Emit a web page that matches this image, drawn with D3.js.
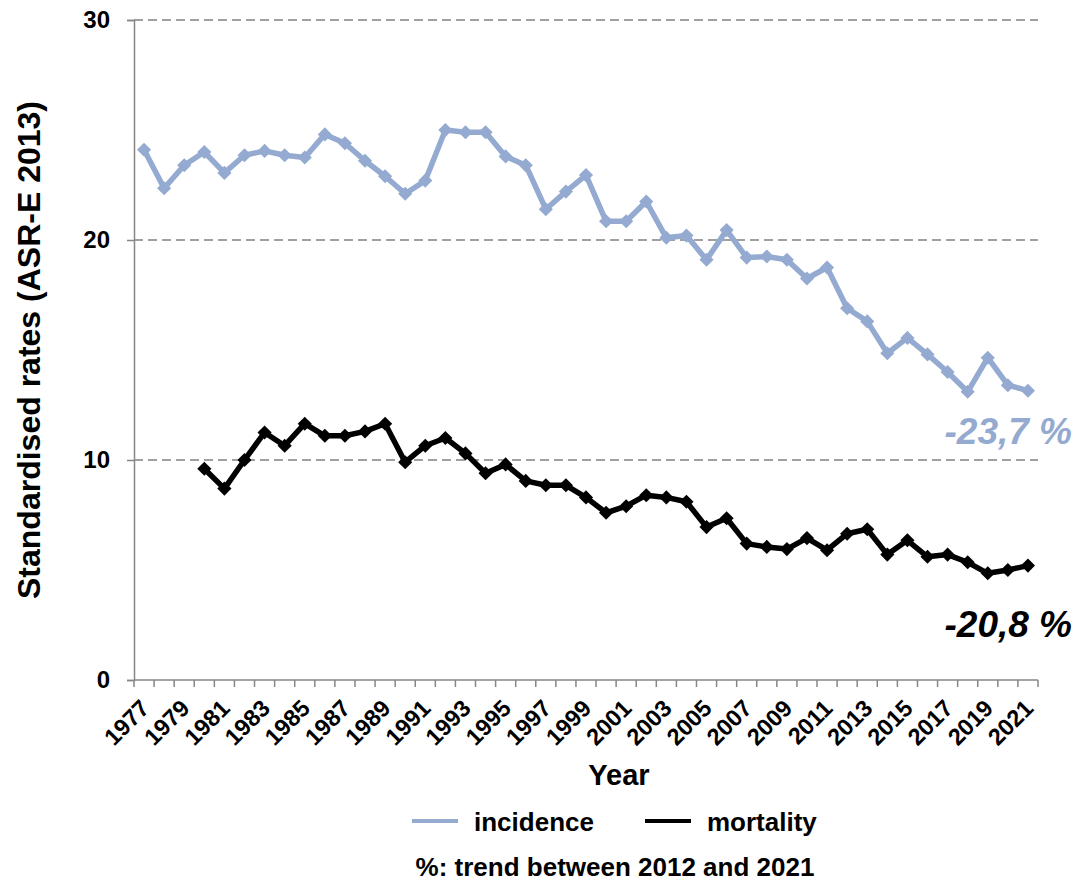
<!DOCTYPE html>
<html>
<head>
<meta charset="utf-8">
<script src="https://cdn.jsdelivr.net/npm/d3@7"></script>
<style>
  body { margin: 0; background: #fff; }
  text { font-family: "Liberation Sans", Arial, sans-serif; font-weight: bold; }
</style>
</head>
<body>
<div id="chart"></div>
<script>
var years = d3.range(1977, 2022);

var incidence = [24.1, 22.35, 23.4, 24.0, 23.05, 23.85, 24.05, 23.85, 23.75, 24.8,
                 24.4, 23.6, 22.9, 22.1, 22.7, 25.0, 24.9, 24.9, 23.8, 23.4,
                 21.4, 22.2, 22.95, 20.85, 20.85, 21.75, 20.1, 20.2, 19.1, 20.45,
                 19.2, 19.25, 19.1, 18.25, 18.75, 16.9, 16.3, 14.85, 15.55, 14.8,
                 14.0, 13.1, 14.65, 13.4, 13.15];

// mortality starts in 1980
var mortality = [null, null, null, 9.6, 8.7, 10.0, 11.25, 10.65, 11.65, 11.1,
                 11.1, 11.3, 11.65, 9.9, 10.65, 11.0, 10.3, 9.4, 9.8, 9.05,
                 8.85, 8.85, 8.3, 7.6, 7.9, 8.4, 8.3, 8.1, 6.95, 7.35,
                 6.2, 6.05, 5.95, 6.45, 5.9, 6.65, 6.85, 5.7, 6.35, 5.6,
                 5.7, 5.35, 4.85, 5.0, 5.2];

var yTicks = [0, 10, 20, 30];
var trendLabels = ["-23,7 %", "-20,8 %"];

var incColor = "#94aad0";
var morColor = "#000000";

var width = 1081, height = 882;
var m = {left: 134, right: 1038, top: 20, bottom: 680};

var svg = d3.select("#chart").append("svg")
    .attr("width", width)
    .attr("height", height);

var x = d3.scaleBand()
    .domain(years)
    .range([m.left, m.right]);

var y = d3.scaleLinear()
    .domain([0, 30])
    .range([m.bottom, m.top]);

// gridlines
svg.append("g")
    .selectAll("line")
    .data(yTicks.filter(function (d) { return d > 0; }))
    .enter()
    .append("line")
    .attr("x1", m.left)
    .attr("x2", m.right)
    .attr("y1", function (d) { return y(d); })
    .attr("y2", function (d) { return y(d); })
    .attr("stroke", "#a0a0a0")
    .attr("stroke-width", 2)
    .attr("stroke-dasharray", "9,5");

// y axis
var yAxis = svg.append("g")
    .attr("transform", "translate(" + m.left + ",0)")
    .call(d3.axisLeft(y).tickValues(yTicks).tickSize(7).tickPadding(17));
yAxis.select(".domain").attr("stroke", "#868686").attr("stroke-width", 1.5);
yAxis.selectAll(".tick line").attr("stroke", "#868686").attr("stroke-width", 1.5);
yAxis.selectAll(".tick text")
    .style("font-size", "24px")
    .style("font-weight", "bold")
    .style("font-family", "'Liberation Sans', Arial, sans-serif")
    .attr("fill", "#000");

// x axis
var xg = svg.append("g");
xg.append("line")
    .attr("x1", m.left).attr("x2", m.right)
    .attr("y1", m.bottom).attr("y2", m.bottom)
    .attr("stroke", "#868686").attr("stroke-width", 1.5);
xg.selectAll("line.tick")
    .data(years.concat([null]))
    .enter()
    .append("line")
    .attr("class", "tick")
    .attr("x1", function (d, i) { return m.left + i * x.step(); })
    .attr("x2", function (d, i) { return m.left + i * x.step(); })
    .attr("y1", m.bottom)
    .attr("y2", m.bottom + 7)
    .attr("stroke", "#868686").attr("stroke-width", 1.5);
xg.selectAll("text")
    .data(years.filter(function (d) { return (d - 1977) % 2 === 0; }))
    .enter()
    .append("text")
    .attr("transform", function (d) {
        return "translate(" + (x(d) + x.bandwidth() / 2 + 1) + "," + (m.bottom + 24) + ") rotate(-45)";
    })
    .attr("text-anchor", "end")
    .attr("dy", "0.35em")
    .style("font-size", "23.5px")
    .text(function (d) { return d; });

// axis titles
svg.append("text")
    .attr("x", 619)
    .attr("y", 785)
    .attr("text-anchor", "middle")
    .style("font-size", "29px")
    .text("Year");

svg.append("text")
    .attr("transform", "translate(40," + ((m.top + m.bottom) / 2) + ") rotate(-90)")
    .attr("text-anchor", "middle")
    .style("font-size", "32px")
    .text("Standardised rates (ASR-E 2013)");

// series
var line = d3.line()
    .defined(function (d) { return d != null; })
    .x(function (d, i) { return x(years[i]) + x.bandwidth() / 2; })
    .y(function (d) { return y(d); });

// diamond markers: a square turned by 45 degrees
var marker = d3.symbol().type(d3.symbolSquare).size(100);

function drawSeries(values, color) {
    var g = svg.append("g");
    g.append("path")
        .datum(values)
        .attr("d", line)
        .attr("fill", "none")
        .attr("stroke", color)
        .attr("stroke-width", 5.5)
        .attr("stroke-linejoin", "round");
    g.selectAll("path.pt")
        .data(values.map(function (v, i) { return {v: v, yr: years[i]}; })
            .filter(function (d) { return d.v != null; }))
        .enter()
        .append("path")
        .attr("class", "pt")
        .attr("d", marker)
        .attr("transform", function (d) {
            return "translate(" + (x(d.yr) + x.bandwidth() / 2) + "," + y(d.v) + ") rotate(45)";
        })
        .attr("fill", color);
}

drawSeries(incidence, incColor);
drawSeries(mortality, morColor);

// trend labels
svg.append("text")
    .attr("x", 1072)
    .attr("y", 444)
    .attr("text-anchor", "end")
    .style("font-size", "37px")
    .style("font-style", "italic")
    .attr("fill", incColor)
    .text(trendLabels[0]);

svg.append("text")
    .attr("x", 1072)
    .attr("y", 637)
    .attr("text-anchor", "end")
    .style("font-size", "37px")
    .style("font-style", "italic")
    .attr("fill", morColor)
    .text(trendLabels[1]);

// legend
var legend = [{name: "incidence", color: incColor, x: 412}, {name: "mortality", color: morColor, x: 645}];
var lg = svg.append("g").selectAll("g")
    .data(legend)
    .enter()
    .append("g");
lg.append("line")
    .attr("x1", function (d) { return d.x; })
    .attr("x2", function (d) { return d.x + 46; })
    .attr("y1", 821)
    .attr("y2", 821)
    .attr("stroke", function (d) { return d.color; })
    .attr("stroke-width", 4);
lg.append("text")
    .attr("x", function (d) { return d.x + 62; })
    .attr("y", 831)
    .style("font-size", "26px")
    .text(function (d) { return d.name; });

svg.append("text")
    .attr("x", 615)
    .attr("y", 876)
    .attr("text-anchor", "middle")
    .style("font-size", "26px")
    .text("%: trend between 2012 and 2021");
</script>
</body>
</html>
